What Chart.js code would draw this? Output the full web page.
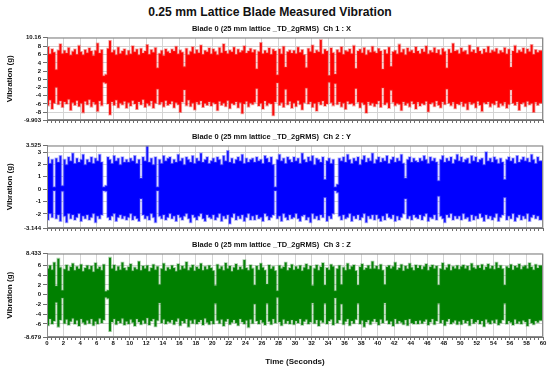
<!DOCTYPE html>
<html>
<head>
<meta charset="utf-8">
<title>0.25 mm Lattice Blade Measured Vibration</title>
<script src="https://cdn.jsdelivr.net/npm/chart.js@4.4.1/dist/chart.umd.min.js"></script>
<style>
  html, body { margin: 0; padding: 0; background: #fff; }
  body { width: 550px; height: 373px; position: relative; overflow: hidden; }
  h1 {
    position: absolute; top: 4px; left: 0; width: 540px; margin: 0;
    text-align: center; color: #111;
    font: bold 13.5px 'Liberation Sans', Arial, sans-serif;
    transform: scaleX(0.9);
  }
  canvas { position: absolute; left: 0; }
</style>
</head>
<body>
<h1>0.25 mm Lattice Blade Measured Vibration</h1>
<canvas id="chart-ch1" width="550" height="106" style="top:20px"></canvas>
<canvas id="chart-ch2" width="550" height="106" style="top:128px"></canvas>
<canvas id="chart-ch3" width="550" height="137" style="top:236px"></canvas>
<script>
'use strict';

// time axis: one envelope bin every 0.25 s, 0..60 s
const binSeconds = 0.25;
const timeMax = 60;
const timeLabelStep = 2;

const panelTitles = [
  'Blade 0 (25 mm lattice _TD_2gRMS)  Ch 1 : X',
  'Blade 0 (25 mm lattice _TD_2gRMS)  Ch 2 : Y',
  'Blade 0 (25 mm lattice _TD_2gRMS)  Ch 3 : Z',
];

// y tick labels (first / last are the axis limits printed on the plot)
const ch1Ticks = [-9.903, -8, -6, -4, -2, 0, 2, 4, 6, 8, 10.16];
const ch2Ticks = [-3.144, -2, -1, 0, 1, 2, 3, 3.525];
const ch3Ticks = [-8.679, -6, -4, -2, 0, 2, 4, 6, 8.433];

// Ch 1 : X  (g) - max / min of the signal in each 0.25 s bin
const ch1High = [
  6.8, 7.9, 6.2, 7.4, 6.6, 2.4, 7.1, 8.6, 6.3, 7.0, 6.4, 7.7, 5.9, 6.8, 7.3, 6.1, 8.2, 6.7, 6.0, 7.2,
  6.5, 7.6, 6.9, 5.8, 7.0, 8.8, 6.4, 7.2, 0.9, 1.2, 7.5, 9.4, 6.6, 7.1, 6.0, 7.8, 6.3, 6.9, 7.4, 5.9,
  7.0, 6.2, 8.1, 6.7, 7.3, 6.0, 7.5, 6.4, 6.9, 8.4, 6.1, 7.2, 6.6, 7.7, 2.8, 6.3, 7.0, 5.8, 7.4, 6.8,
  6.4, 7.3, 6.9, 8.0, 6.2, 7.1, 6.6, 3.1, 7.5, 6.0, 6.8, 7.9, 6.3, 7.2, 6.5, 8.3, 6.1, 7.0, 6.7, 7.6,
  6.2, 7.4, 6.8, 6.0, 7.7, 6.5, 8.6, 6.9, 6.3, 7.1, 6.7, 7.8, 6.1, 7.3, 6.6, 7.0, 8.1, 6.4, 6.9, 7.5,
  6.6, 7.2, 2.6, 6.8, 8.9, 6.3, 7.0, 6.5, 7.6, 6.1, 7.3, 6.9, 1.1, 7.4, 6.2, 8.0, 3.0, 6.7, 7.1, 6.4,
  7.0, 6.3, 7.8, 6.6, 7.2, 6.0, 2.9, 7.5, 6.8, 8.3, 6.4, 7.1, 6.7, 9.6, 6.2, 7.3, 6.9, 1.0, 7.6, 6.5,
  1.3, 7.2, 6.6, 7.9, 6.1, 7.0, 6.8, 7.4, 6.3, 8.2, 2.7, 6.9, 7.3, 6.5, 7.7, 6.0, 7.1, 6.6, 8.0, 6.8,
  6.4, 7.5, 6.9, 2.5, 7.2, 6.3, 7.8, 3.2, 6.7, 7.0, 6.2, 8.5, 6.6, 7.3, 6.0, 7.6, 6.8, 7.1, 6.4, 7.9,
  6.9, 6.3, 7.4, 6.7, 8.1, 6.2, 7.0, 6.6, 7.7, 6.4, 7.2, 6.0, 7.5, 6.8, 2.8, 7.3, 6.5, 8.7, 6.9, 7.1,
  6.3, 7.6, 6.8, 7.0, 6.1, 8.3, 6.7, 7.2, 6.4, 7.8, 6.9, 6.2, 7.4, 6.6, 8.0, 6.5, 7.1, 6.8, 7.5, 6.3,
  7.0, 6.6, 7.7, 6.2, 7.3, 3.0, 6.9, 8.2, 6.5, 7.1, 6.7, 7.6, 6.3, 7.4, 6.8, 8.4, 6.1, 7.2, 6.6, 7.0,
];
const ch1Low = [
  -5.6, -6.4, -5.1, -7.2, -5.8, -2.0, -6.1, -5.3, -6.8, -5.5, -6.0, -4.9, -7.5, -5.7, -6.3, -5.2, -6.6, -5.9, -8.1, -5.4,
  -6.2, -5.0, -6.7, -5.6, -6.1, -7.8, -5.3, -6.4, -0.8, -1.0, -6.0, -8.6, -5.5, -6.3, -5.1, -6.9, -5.8, -6.2, -5.4, -7.0,
  -5.7, -6.5, -5.2, -6.0, -7.3, -5.5, -6.2, -5.0, -6.8, -5.9, -6.4, -5.3, -7.0, -5.8, -2.4, -6.1, -5.6, -6.7, -5.2, -6.3,
  -6.0, -5.4, -6.9, -5.7, -6.2, -8.0, -5.5, -2.6, -6.4, -5.1, -6.6, -5.8, -7.4, -5.6, -6.1, -5.3, -6.8, -5.9, -6.3, -5.5,
  -6.5, -5.7, -6.0, -7.6, -5.4, -6.3, -5.8, -6.6, -5.2, -7.1, -5.9, -6.2, -5.5, -6.9, -5.7, -8.3, -6.0, -5.4, -6.7, -5.8,
  -6.1, -5.6, -2.3, -6.5, -5.9, -7.2, -5.3, -6.4, -5.8, -6.0, -8.8, -5.5, -0.9, -6.3, -5.7, -6.8, -2.5, -6.2, -5.4, -7.0,
  -5.8, -6.6, -5.2, -6.1, -7.4, -5.7, -2.2, -6.0, -5.5, -6.8, -5.9, -7.7, -5.6, -6.2, -5.3, -6.5, -6.0, -0.8, -5.7, -6.4,
  -1.1, -6.1, -5.5, -6.7, -5.8, -7.3, -5.4, -6.0, -5.9, -6.4, -2.3, -5.6, -6.9, -5.7, -6.2, -8.2, -5.5, -6.3, -5.8, -6.6,
  -6.0, -5.3, -6.8, -2.1, -6.2, -5.7, -7.0, -2.7, -5.6, -6.4, -5.9, -6.1, -7.6, -5.5, -6.3, -5.8, -6.7, -5.4, -6.0, -7.2,
  -5.6, -6.5, -5.9, -6.2, -5.4, -7.9, -6.0, -5.7, -6.6, -5.3, -6.3, -6.9, -5.5, -6.1, -2.4, -5.8, -6.4, -5.6, -7.1, -6.0,
  -6.2, -5.5, -6.6, -5.9, -7.4, -5.6, -6.1, -5.8, -6.9, -5.4, -6.3, -7.8, -5.7, -6.0, -5.5, -6.7, -5.9, -6.2, -5.3, -6.8,
  -5.9, -6.4, -5.6, -7.0, -6.1, -2.6, -5.8, -6.3, -5.5, -7.5, -6.0, -5.7, -6.6, -5.4, -6.2, -5.9, -8.0, -5.6, -6.3, -5.8,
];

// Ch 2 : Y  (g)
const ch2High = [
  2.3, 2.6, 2.1, 2.4, 0.2, 2.5, 2.2, 2.7, 0.3, 2.4, 2.0, 2.6, 2.3, 2.9, 2.1, 2.5, 2.2, 2.4, 2.8, 2.0,
  2.4, 2.2, 2.6, 2.1, 2.5, 2.3, 2.8, 2.2, 0.2, 0.3, 2.6, 2.4, 2.1, 2.7, 2.3, 2.5, 2.0, 2.6, 2.2, 2.4,
  2.2, 2.5, 2.3, 2.7, 2.1, 2.4, 0.9, 2.6, 2.3, 3.5, 2.2, 2.5, 2.0, 2.6, 0.2, 2.4, 2.1, 2.7, 2.3, 2.5,
  2.6, 2.1, 2.4, 2.2, 2.8, 2.3, 2.5, 2.0, 2.6, 2.4, 2.2, 2.7, 2.1, 2.5, 2.3, 2.9, 2.2, 2.4, 2.6, 2.1,
  2.3, 2.5, 2.2, 2.6, 2.4, 2.0, 2.7, 2.3, 3.1, 2.2, 2.5, 2.1, 2.4, 2.6, 2.3, 2.8, 2.1, 2.5, 2.2, 2.4,
  2.5, 2.2, 2.6, 2.3, 2.4, 2.1, 2.7, 2.5, 2.2, 2.6, 2.0, 0.2, 2.4, 2.8, 2.3, 2.5, 2.1, 2.6, 2.4, 2.2,
  2.6, 2.3, 2.5, 2.1, 2.9, 2.4, 2.2, 2.6, 2.3, 2.7, 2.0, 2.5, 2.4, 2.2, 2.6, 0.8, 2.3, 2.5, 2.1, 2.4,
  0.2, 0.4, 2.5, 2.3, 2.6, 2.2, 2.8, 2.4, 2.1, 2.5, 2.3, 2.6, 2.0, 2.4, 2.7, 2.2, 2.5, 2.3, 2.9, 2.1,
  2.4, 2.6, 2.2, 2.5, 2.3, 2.7, 2.1, 2.4, 2.6, 2.2, 2.5, 2.3, 2.8, 2.1, 0.9, 2.4, 2.6, 2.2, 2.5, 2.3,
  2.2, 2.5, 2.3, 2.7, 2.4, 2.1, 2.6, 2.3, 2.5, 2.2, 0.7, 2.4, 2.7, 2.2, 2.5, 2.3, 2.6, 2.1, 2.4, 2.8,
  2.3, 2.6, 2.2, 2.4, 2.5, 2.1, 2.7, 2.3, 2.6, 2.2, 2.4, 2.5, 2.0, 3.0, 2.3, 2.5, 2.2, 2.6, 2.4, 2.1,
  2.5, 2.2, 0.8, 2.4, 2.6, 2.3, 2.5, 2.1, 2.7, 2.2, 2.4, 2.6, 2.3, 2.5, 2.2, 2.8, 2.4, 2.1, 2.6, 2.3,
];
const ch2Low = [
  -2.2, -2.5, -2.0, -2.3, -0.15, -2.4, -2.1, -2.6, -0.2, -2.2, -2.7, -2.0, -2.4, -2.1, -2.5, -2.3, -2.0, -2.6, -2.2, -2.4,
  -2.1, -2.5, -2.3, -2.0, -2.7, -2.2, -2.4, -2.1, -0.15, -0.2, -2.3, -2.5, -2.2, -2.0, -2.6, -2.3, -2.1, -2.4, -2.2, -2.5,
  -2.3, -2.0, -2.5, -2.2, -2.4, -2.6, -0.8, -2.1, -2.4, -2.2, -2.5, -2.0, -2.3, -2.7, -0.15, -2.2, -2.4, -2.1, -2.5, -2.3,
  -2.0, -2.4, -2.2, -2.6, -2.1, -2.3, -2.5, -2.2, -2.0, -2.4, -2.7, -2.1, -2.3, -2.5, -2.2, -2.0, -2.4, -2.6, -2.1, -2.3,
  -2.4, -2.1, -2.5, -2.3, -2.0, -2.6, -2.2, -2.4, -2.1, -2.8, -2.3, -2.0, -2.5, -2.2, -2.4, -2.1, -2.6, -2.3, -2.0, -2.5,
  -2.2, -2.5, -2.1, -2.4, -2.3, -2.6, -2.0, -2.2, -2.5, -2.3, -2.1, -0.15, -2.4, -2.2, -2.6, -2.0, -2.3, -2.5, -2.1, -2.4,
  -2.3, -2.0, -2.4, -2.6, -2.2, -2.1, -2.5, -2.3, -2.7, -2.0, -2.4, -2.2, -2.5, -2.1, -2.3, -0.7, -2.6, -2.2, -2.4, -2.0,
  -0.15, -0.3, -2.2, -2.5, -2.1, -2.4, -2.3, -2.0, -2.6, -2.2, -2.4, -2.1, -2.5, -2.3, -2.0, -2.7, -2.2, -2.4, -2.1, -2.5,
  -2.1, -2.4, -2.6, -2.2, -2.5, -2.0, -2.3, -2.4, -2.1, -2.6, -2.2, -2.5, -2.3, -2.0, -0.8, -2.4, -2.2, -2.5, -2.1, -2.3,
  -2.4, -2.1, -2.5, -2.2, -2.0, -2.6, -2.3, -2.4, -2.1, -2.5, -0.6, -2.2, -2.4, -2.7, -2.1, -2.3, -2.0, -2.5, -2.2, -2.4,
  -2.2, -2.5, -2.0, -2.4, -2.3, -2.6, -2.1, -2.5, -2.2, -2.4, -2.0, -2.3, -2.6, -2.1, -2.4, -2.2, -2.5, -2.3, -2.0, -2.6,
  -2.3, -2.1, -0.7, -2.5, -2.2, -2.4, -2.0, -2.6, -2.3, -2.1, -2.5, -2.2, -2.4, -2.0, -2.6, -2.3, -2.1, -2.4, -2.2, -2.5,
];

// Ch 3 : Z  (g)
const ch3High = [
  6.3, 5.4, 6.0, 5.1, 6.6, 1.8, 7.4, 5.6, 0.9, 5.2, 6.1, 4.9, 5.7, 6.4, 5.0, 5.8, 5.3, 6.2, 4.8, 5.5,
  6.0, 5.2, 5.9, 4.7, 6.5, 5.3, 5.7, 5.0, 6.2, 0.7, 0.9, 7.6, 5.4, 6.1, 4.9, 5.8, 5.1, 6.6, 5.5, 5.0,
  5.7, 6.3, 4.9, 5.6, 5.2, 6.8, 5.0, 5.9, 5.4, 6.0, 4.8, 5.5, 6.2, 5.1, 5.8, 2.1, 5.3, 6.4, 4.9, 5.6,
  5.2, 6.0, 5.5, 4.8, 6.3, 5.1, 5.9, 5.4, 6.7, 5.0, 5.6, 6.1, 4.9, 5.7, 5.3, 6.4, 5.0, 5.8, 5.2, 6.0,
  5.5, 4.9, 1.9, 6.2, 5.3, 5.8, 5.0, 6.5, 5.4, 5.9, 4.8, 5.6, 6.3, 5.1, 5.7, 5.2, 7.1, 5.5, 5.0, 6.1,
  5.4, 2.0, 5.9, 5.1, 6.4, 5.6, 5.0, 2.2, 6.1, 5.3, 5.8, 4.9, 0.8, 6.0, 5.4, 5.7, 6.6, 5.0, 5.5, 6.2,
  5.1, 5.8, 5.3, 6.0, 4.9, 5.6, 6.3, 5.2, 5.9, 1.9, 5.4, 6.1, 5.0, 5.7, 6.5, 2.0, 5.5, 5.1, 6.2, 5.8,
  0.8, 5.3, 6.0, 2.1, 5.6, 5.0, 6.4, 5.2, 5.8, 6.1, 4.9, 2.0, 5.7, 6.3, 5.1, 5.5, 6.0, 5.3, 6.8, 5.4,
  5.9, 5.2, 6.2, 5.0, 2.1, 5.7, 6.0, 5.4, 5.8, 6.6, 5.1, 5.5, 6.2, 4.9, 5.9, 5.3, 6.4, 5.6, 5.0, 6.1,
  5.5, 6.0, 5.2, 5.8, 6.3, 5.0, 5.7, 6.1, 5.4, 5.9, 2.0, 5.3, 6.5, 5.1, 5.6, 6.2, 5.0, 5.8, 5.4, 6.0,
  5.2, 5.8, 6.1, 5.4, 5.9, 5.0, 6.4, 5.6, 5.3, 6.0, 5.5, 6.2, 5.1, 5.7, 6.3, 5.4, 5.9, 5.2, 6.6, 5.5,
  6.0, 5.3, 2.0, 5.8, 5.5, 6.2, 5.1, 5.9, 5.6, 6.3, 5.2, 5.8, 6.0, 5.4, 6.5, 5.7, 5.1, 6.2, 5.5, 6.0,
];
const ch3Low = [
  -5.6, -6.3, -5.0, -6.0, -5.4, -1.6, -6.6, -5.2, -0.7, -5.9, -5.1, -6.2, -5.5, -4.9, -6.0, -5.3, -6.4, -5.0, -5.7, -6.1,
  -5.3, -5.9, -5.0, -6.3, -5.5, -6.0, -4.9, -5.8, -5.2, -0.6, -0.8, -7.5, -5.6, -5.0, -6.1, -5.4, -5.8, -4.9, -6.2, -5.5,
  -6.0, -5.1, -5.7, -6.4, -5.0, -5.6, -6.1, -5.3, -5.9, -4.8, -6.2, -5.4, -5.0, -6.5, -5.3, -1.7, -5.8, -5.1, -6.0, -5.5,
  -5.7, -5.2, -6.1, -5.5, -4.9, -6.3, -5.4, -5.8, -5.0, -6.6, -5.3, -5.9, -5.1, -6.0, -5.6, -5.2, -6.2, -4.9, -5.7, -6.1,
  -5.4, -6.0, -1.8, -5.3, -5.9, -5.1, -6.4, -5.5, -5.0, -6.1, -5.7, -5.2, -5.8, -6.3, -5.0, -5.6, -6.0, -5.3, -6.7, -5.1,
  -5.9, -1.9, -5.4, -6.0, -5.2, -5.7, -6.2, -1.8, -5.5, -6.1, -5.0, -5.8, -0.6, -5.6, -6.3, -5.1, -5.9, -5.4, -6.0, -5.2,
  -6.1, -5.4, -5.8, -5.0, -6.2, -5.5, -5.1, -6.0, -5.6, -1.7, -5.9, -5.2, -6.4, -5.3, -5.7, -1.8, -6.0, -5.4, -5.1, -6.2,
  -0.7, -5.8, -5.2, -1.9, -6.1, -5.5, -5.0, -6.3, -5.4, -5.9, -5.1, -1.8, -6.0, -5.3, -6.6, -5.6, -5.2, -6.1, -5.5, -5.0,
  -5.6, -6.2, -5.1, -5.8, -1.7, -5.3, -6.0, -5.5, -6.4, -5.0, -5.9, -5.4, -5.7, -6.1, -5.2, -6.3, -5.0, -5.8, -6.0, -5.4,
  -6.0, -5.3, -5.9, -5.5, -5.1, -6.2, -5.6, -5.0, -6.1, -5.4, -1.8, -5.8, -5.2, -6.3, -5.5, -5.0, -6.0, -5.7, -5.3, -6.1,
  -5.5, -6.1, -5.2, -5.8, -5.4, -6.3, -5.0, -5.9, -5.6, -5.2, -6.0, -5.4, -6.5, -5.1, -5.7, -6.0, -5.3, -5.8, -5.1, -6.2,
  -5.8, -5.2, -1.8, -6.0, -5.4, -5.7, -6.2, -5.1, -5.9, -5.5, -6.0, -5.3, -5.6, -6.4, -5.0, -5.8, -6.1, -5.4, -5.7, -5.3,
];

const FONT = "'Liberation Sans', Arial, sans-serif";
Chart.defaults.font.family = FONT;
Chart.defaults.font.weight = 'bold';
Chart.defaults.color = '#111';

// grey box round the plotting area
const framePlugin = {
  id: 'frame',
  afterDraw: function (chart) {
    const a = chart.chartArea;
    const ctx = chart.ctx;
    ctx.save();
    ctx.strokeStyle = '#8c8c8c';
    ctx.lineWidth = 1;
    ctx.strokeRect(a.left + 0.5, a.top + 0.5, a.right - a.left - 1, a.bottom - a.top - 1);
    ctx.restore();
  },
};

function toPoints(values) {
  const points = values.map(function (v, i) {
    return { x: i * binSeconds, y: v };
  });
  points.push({ x: timeMax, y: values[values.length - 1] });
  return points;
}

function makeChart(canvasId, high, low, ticks, title, fill, edge, isBottom) {
  const ctx = document.getElementById(canvasId).getContext('2d');
  return new Chart(ctx, {
    type: 'line',
    data: {
      datasets: [
        {
          data: toPoints(high),
          stepped: 'after',
          borderColor: edge,
          borderWidth: 1.6,
          backgroundColor: fill,
          fill: '+1',
          pointRadius: 0,
        },
        {
          data: toPoints(low),
          stepped: 'after',
          borderColor: edge,
          borderWidth: 1.6,
          fill: false,
          pointRadius: 0,
        },
      ],
    },
    plugins: [framePlugin],
    options: {
      responsive: false,
      animation: false,
      events: [],
      layout: { padding: { left: 0, right: 7, top: 0, bottom: 0 } },
      plugins: {
        legend: { display: false },
        tooltip: { enabled: false },
        filler: { drawTime: 'beforeDatasetsDraw' },
        title: {
          display: true,
          text: title,
          color: '#111',
          font: { size: 7.5, weight: 'bold' },
          padding: { top: 4, bottom: 4.6 },
        },
      },
      scales: {
        x: {
          type: 'linear',
          min: 0,
          max: timeMax,
          afterFit: function (scale) {
            scale.height = isBottom ? 36 : 6;
          },
          border: { display: true, color: '#6e6e6e' },
          grid: {
            color: function (c) {
              return c.tick && c.tick.value % timeLabelStep === 0 ? '#d4d4d4' : 'rgba(0,0,0,0)';
            },
            tickColor: '#6e6e6e',
            tickLength: 3,
          },
          ticks: {
            stepSize: 0.5,
            autoSkip: false,
            maxRotation: 0,
            padding: 0,
            color: '#111',
            font: { size: 6, weight: 'bold' },
            callback: function (value) {
              if (!isBottom || value % timeLabelStep !== 0) return '';
              return String(value);
            },
          },
          title: {
            display: isBottom,
            text: 'Time (Seconds)',
            color: '#111',
            font: { size: 8, weight: 'bold' },
            padding: { top: 0, bottom: 6 },
          },
        },
        y: {
          min: ticks[0],
          max: ticks[ticks.length - 1],
          afterBuildTicks: function (scale) {
            scale.ticks = ticks.map(function (v) { return { value: v }; });
          },
          afterFit: function (scale) {
            scale.width = 47;
          },
          border: { display: true, color: '#6e6e6e' },
          grid: {
            color: '#d4d4d4',
            tickColor: '#6e6e6e',
            tickLength: 4,
          },
          ticks: {
            autoSkip: false,
            padding: 2,
            color: '#111',
            font: { size: 6, weight: 'bold' },
            callback: function (value) {
              return String(value);
            },
          },
          title: {
            display: true,
            text: 'Vibration (g)',
            color: '#111',
            font: { size: 8, weight: 'bold' },
            padding: { top: 5, bottom: 0 },
          },
        },
      },
    },
  });
}

makeChart('chart-ch1', ch1High, ch1Low, ch1Ticks, panelTitles[0], '#ff0000', 'rgba(235, 60, 55, 0.4)', false);
makeChart('chart-ch2', ch2High, ch2Low, ch2Ticks, panelTitles[1], '#0000ff', 'rgba(90, 90, 255, 0.45)', false);
makeChart('chart-ch3', ch3High, ch3Low, ch3Ticks, panelTitles[2], '#008000', 'rgba(40, 140, 40, 0.4)', true);
</script>
</body>
</html>
